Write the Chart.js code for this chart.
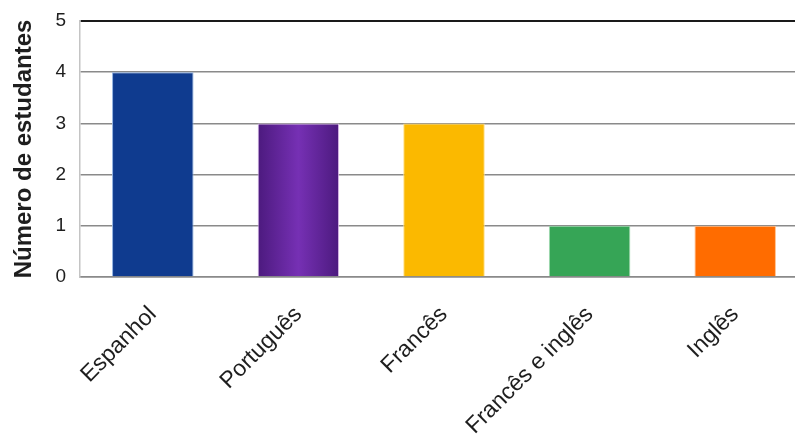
<!DOCTYPE html>
<html>
<head>
<meta charset="utf-8">
<script src="https://cdn.jsdelivr.net/npm/chart.js@4/dist/chart.umd.min.js"></script>
<style>
  html, body { margin: 0; padding: 0; background: #ffffff; }
  #wrap { position: relative; width: 795px; height: 434px; overflow: hidden; }
  #box { position: absolute; left: 0; top: 0; width: 808px; height: 434px; }
</style>
</head>
<body>
<div id="wrap"><div id="box"><canvas id="chart"></canvas></div></div>
<script>
// Languages studied and how many students chose each
const categories = ['Espanhol', 'Português', 'Francês', 'Francês e inglês', 'Inglês'];
const students = [4, 3, 3, 1, 1];
const barColors = ['#0f3b8f', '#6a27a6', '#fbb900', '#36a556', '#ff6c00'];
const borderColors = ['#8fb0e0', '#e6c6f2', '#ffe08a', '#9fd9ae', '#ffc18f'];
const yMin = 0;
const yMax = 5;
const yStep = 1;

const FONT = "'Liberation Sans', Arial, Helvetica, sans-serif";

// Português bar gets a soft purple shading, darker toward its edges
function barFill(ctx) {
  const i = ctx.dataIndex;
  if (i !== 1) return barColors[i];
  const chart = ctx.chart;
  const xs = chart.scales.x;
  if (!chart.chartArea || !xs) return barColors[i];
  const cx = xs.getPixelForValue(i);
  const half = xs.width / categories.length * 0.56 / 2;
  const g = chart.ctx.createLinearGradient(cx - half, 0, cx + half, 0);
  g.addColorStop(0, '#4c1a7e');
  g.addColorStop(0.5, '#7630b4');
  g.addColorStop(1, '#4c1a7e');
  return g;
}

new Chart(document.getElementById('chart'), {
  type: 'bar',
  data: {
    labels: categories,
    datasets: [{
      data: students,
      backgroundColor: barFill,
      borderColor: borderColors,
      borderWidth: 1,
      barPercentage: 0.56,
      categoryPercentage: 1.0
    }]
  },
  options: {
    responsive: true,
    maintainAspectRatio: false,
    animation: false,
    layout: { padding: { top: 21, right: 0, bottom: 0, left: 0 } },
    plugins: {
      legend: { display: false },
      tooltip: { enabled: false }
    },
    scales: {
      x: {
        afterFit: (scale) => { scale.height = 157; },
        grid: { display: false, drawTicks: false },
        border: { display: true, color: '#8a8a8a', width: 1.5 },
        ticks: {
          minRotation: 45,
          maxRotation: 45,
          padding: 24,
          color: '#1e1e1e',
          font: { family: FONT, size: 23 }
        }
      },
      y: {
        min: yMin,
        max: yMax,
        afterFit: (scale) => {
          scale.width = 80;
          scale.paddingTop = 0;
          scale.paddingBottom = 0;
        },
        grid: {
          drawTicks: false,
          color: (c) => (c.tick && c.tick.value === yMax ? '#1a1a1a' : '#8a8a8a'),
          lineWidth: (c) => (c.tick && c.tick.value === yMax ? 2 : 1.5)
        },
        border: { display: true, color: '#c4c4c4', width: 1.5 },
        ticks: {
          stepSize: yStep,
          padding: 14,
          color: '#1e1e1e',
          font: { family: FONT, size: 19 }
        },
        title: {
          display: true,
          text: 'Número de estudantes',
          color: '#1e1e1e',
          padding: { top: 10, bottom: 4 },
          font: { family: FONT, size: 24, weight: 'bold' }
        }
      }
    }
  }
});
</script>
</body>
</html>
